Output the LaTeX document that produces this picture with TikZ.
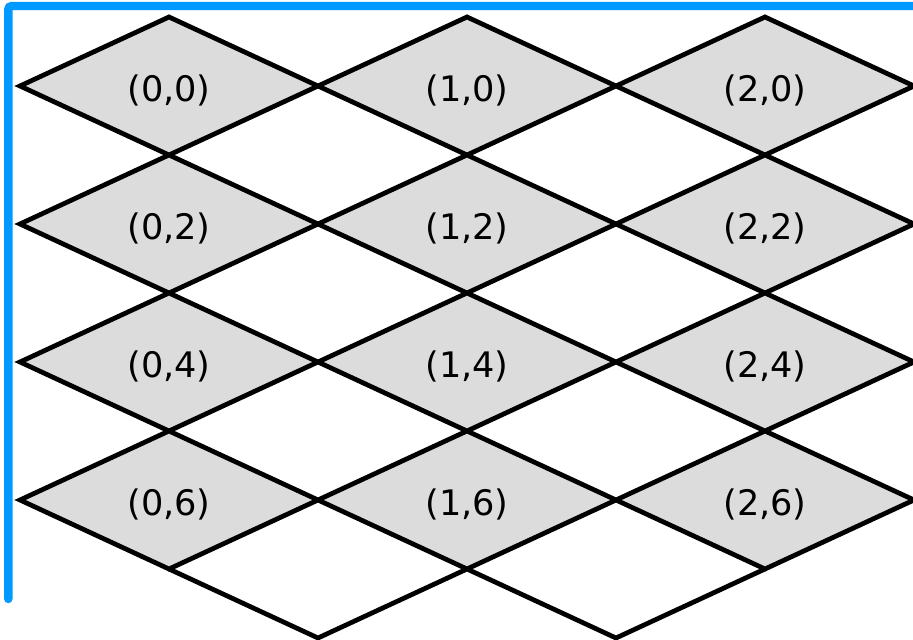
\documentclass[tikz,border=0pt]{standalone}
\usepackage{fontspec}
\setmainfont{DejaVu Sans}
\usetikzlibrary{shapes.geometric}
\definecolor{tileline}{HTML}{000000}
\definecolor{tilefill}{HTML}{DCDCDC}
\definecolor{frameblue}{HTML}{0099FF}
\tikzset{
  cell/.style={diamond, line width=2.7pt, minimum width=5.96cm,
               minimum height=2.76cm, inner sep=0pt, outer sep=0pt, aspect=2,
               font=\fontsize{20}{24}\selectfont, text height=20pt, text depth=2.2pt},
  shadecell/.style={cell, draw=tileline, fill=tilefill},
  gapcell/.style={cell},
  tileedge/.style={draw=tileline, line width=2.7pt},
  frameline/.style={draw=frameblue, line width=4.8pt, line cap=round, rounded corners=2pt},
}

\begin{document}
\begin{tikzpicture}
    \useasboundingbox (0,0) rectangle (18.26,-12.8);
    % white gaps between the columns
    \node[gapcell] (w00) at (6.36, -3.10) {};
    \node[gapcell] (w10) at (12.32, -3.10) {};
    \node[gapcell] (w02) at (6.36, -5.86) {};
    \node[gapcell] (w12) at (12.32, -5.86) {};
    \node[gapcell] (w04) at (6.36, -8.62) {};
    \node[gapcell] (w14) at (12.32, -8.62) {};
    \node[gapcell] (w06) at (6.36, -11.38) {};
    \node[gapcell] (w16) at (12.32, -11.38) {};
    % shaded cells
    \node[shadecell] (g00) at (3.38, -1.72) {(0,0)};
    \node[shadecell] (g10) at (9.34, -1.72) {(1,0)};
    \node[shadecell] (g20) at (15.30, -1.72) {(2,0)};
    \node[shadecell] (g02) at (3.38, -4.48) {(0,2)};
    \node[shadecell] (g12) at (9.34, -4.48) {(1,2)};
    \node[shadecell] (g22) at (15.30, -4.48) {(2,2)};
    \node[shadecell] (g04) at (3.38, -7.24) {(0,4)};
    \node[shadecell] (g14) at (9.34, -7.24) {(1,4)};
    \node[shadecell] (g24) at (15.30, -7.24) {(2,4)};
    \node[shadecell] (g06) at (3.38, -10.00) {(0,6)};
    \node[shadecell] (g16) at (9.34, -10.00) {(1,6)};
    \node[shadecell] (g26) at (15.30, -10.00) {(2,6)};
    % lower edges of the last gaps
    \draw[tileedge] (g06.south) -- (w06.south) -- (g16.south) -- (w16.south) -- (g26.south);
    \draw[frameline] (0.166, -11.98) |- (18.6, -0.12);
  \end{tikzpicture}
\end{document}
